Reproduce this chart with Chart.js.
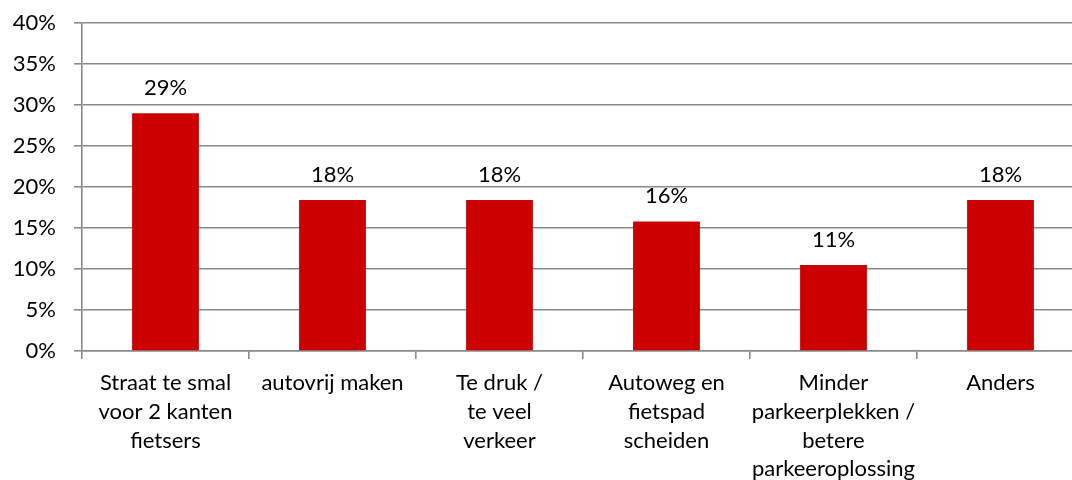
<!DOCTYPE html>
<html>
<head>
<meta charset="utf-8">
<script src="https://cdn.jsdelivr.net/npm/chart.js@4.4.1/dist/chart.umd.min.js"></script>
<style>
html,body{margin:0;padding:0;background:#fff;overflow:hidden;width:1072px;height:480px;}
canvas{display:block;}
</style>
</head>
<body>
<canvas id="c" width="1090" height="480"></canvas>
<script>
const categories = [
  ["Straat te smal", "voor 2 kanten", "fietsers"],
  "autovrij maken",
  ["Te druk /", "te veel", "verkeer"],
  ["Autoweg en", "fietspad", "scheiden"],
  ["Minder", "parkeerplekken /", "betere", "parkeeroplossing"],
  "Anders"
];
const values = [29.0, 18.4, 18.4, 15.8, 10.5, 18.4];
const valueLabels = ["29%", "18%", "18%", "16%", "11%", "18%"];
const yTicks = [0, 5, 10, 15, 20, 25, 30, 35, 40];

const FONT = "Lato, 'Open Sans', sans-serif";
const FS = 22;
const GRID = '#8a8a8a';

const labelPlugin = {
  id: 'valueLabels',
  afterDatasetsDraw(chart) {
    const ctx = chart.ctx;
    const meta = chart.getDatasetMeta(0);
    ctx.save();
    ctx.font = FS + 'px ' + FONT;
    ctx.fillStyle = '#000';
    ctx.textAlign = 'center';
    ctx.textBaseline = 'alphabetic';
    meta.data.forEach((bar, i) => {
      ctx.fillText(valueLabels[i], bar.x, bar.y - 18);
    });
    ctx.restore();
  }
};

new Chart(document.getElementById('c'), {
  type: 'bar',
  data: {
    labels: categories,
    datasets: [{
      data: values,
      backgroundColor: '#cc0000',
      borderWidth: 0,
      categoryPercentage: 1,
      barPercentage: 0.4
    }]
  },
  options: {
    responsive: false,
    animation: false,
    devicePixelRatio: 1,
    layout: { padding: { top: 23, right: 6, left: 0, bottom: 0 } },
    plugins: { legend: { display: false }, tooltip: { enabled: false } },
    scales: {
      y: {
        min: 0, max: 40,
        afterBuildTicks(scale) { scale.ticks = yTicks.map(v => ({ value: v })); },
        afterFit(scale) { scale.width = 82; scale.paddingTop = 0; scale.paddingBottom = 0; },
        ticks: {
          callback: v => v + '%',
          color: '#000',
          font: { family: FONT, size: FS },
          padding: 18
        },
        grid: { color: GRID, lineWidth: 1.6, tickLength: 8, drawTicks: true },
        border: { color: GRID, width: 1.6 }
      },
      x: {
        afterFit(scale) { scale.height = 129; },
        ticks: {
          color: '#000',
          font: { family: FONT, size: FS, lineHeight: 1.3 },
          maxRotation: 0, minRotation: 0, autoSkip: false,
          padding: 10
        },
        grid: { color: GRID, lineWidth: 1.6, drawOnChartArea: false, drawTicks: true, tickLength: 8, offset: true },
        border: { color: GRID, width: 1.6 }
      }
    }
  },
  plugins: [labelPlugin]
});
</script>
</body>
</html>
